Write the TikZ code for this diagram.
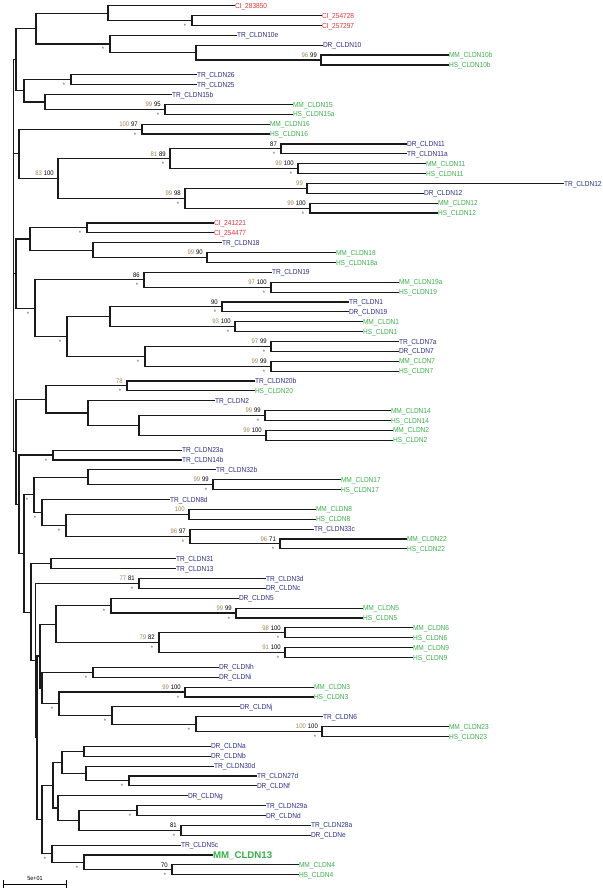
\documentclass[tikz,border=0pt]{standalone}
\usepackage{fontspec}
\setmainfont{Liberation Sans}[FakeStretch=0.9]
\newfontfamily\plainsans{Liberation Sans}
\usetikzlibrary{calc}
\definecolor{cired}{HTML}{E8323A}
\definecolor{navy}{HTML}{2C2F88}
\definecolor{grn}{HTML}{3AB04A}
\definecolor{bsb}{HTML}{A08050}
\definecolor{brc}{HTML}{1A1A1A}
\newcommand\jn[4]{\path let \p1=($(#3)!0.5!(#4)$) in coordinate (#1) at (#2pt,\y1);
  \draw[br] (#3) -| (#1) |- (#4);}
\newcommand\bs[3]{\node[bsn,anchor=base east] (b#1) at ([xshift=-4pt,yshift=2.7pt]#1) {\textcolor{bsb}{#2}\hspace{2pt}#3};}
\newcommand\st[1]{\node[stn,anchor=base] (s#1) at ([xshift=-7pt,yshift=-8pt]#1) {*};}
\begin{document}
\begin{tikzpicture}[x=1pt,y=-1pt,
 br/.style={draw=brc,line width=1.15pt,line cap=rect},
 lab/.style={font=\fontsize{7.3}{8}\selectfont,inner sep=0.8pt,anchor=west,text height=5.2pt,text depth=0pt},
 bsn/.style={font=\fontsize{6.6}{7}\selectfont,inner sep=0pt},
 stn/.style={font=\fontsize{6.5}{7}\selectfont,inner sep=0pt,text=black!65}]
\useasboundingbox (0,0) rectangle (602,893);
\foreach \i/\x/\nm/\cl in {
1/234/CI\_283850/cired, 2/321/CI\_254728/cired, 3/321/CI\_257297/cired,
4/236/TR\_CLDN10e/navy, 5/322/DR\_CLDN10/navy, 6/448/MM\_CLDN10b/grn, 7/448/HS\_CLDN10b/grn,
8/196/TR\_CLDN26/navy, 9/196/TR\_CLDN25/navy, 10/171/TR\_CLDN15b/navy,
11/292/MM\_CLDN15/grn, 12/292/HS\_CLDN15a/grn, 13/269/MM\_CLDN16/grn, 14/269/HS\_CLDN16/grn,
15/406/DR\_CLDN11/navy, 16/406/TR\_CLDN11a/navy, 17/425/MM\_CLDN11/grn, 18/425/HS\_CLDN11/grn,
19/563/TR\_CLDN12/navy, 20/423/DR\_CLDN12/navy, 21/437/MM\_CLDN12/grn, 22/437/HS\_CLDN12/grn,
23/213/CI\_241221/cired, 24/213/CI\_254477/cired, 25/221/TR\_CLDN18/navy,
26/335/MM\_CLDN18/grn, 27/335/HS\_CLDN18a/grn, 28/271/TR\_CLDN19/navy,
29/398/MM\_CLDN19a/grn, 30/398/HS\_CLDN19/grn, 31/348/TR\_CLDN1/navy, 32/348/DR\_CLDN19/navy,
33/362/MM\_CLDN1/grn, 34/362/HS\_CLDN1/grn, 35/398/TR\_CLDN7a/navy, 36/398/DR\_CLDN7/navy,
37/398/MM\_CLDN7/grn, 38/398/HS\_CLDN7/grn, 39/254/TR\_CLDN20b/navy, 40/254/HS\_CLDN20/grn,
41/214/TR\_CLDN2/navy, 42/390/MM\_CLDN14/grn, 43/390/HS\_CLDN14/grn, 44/392/MM\_CLDN2/grn,
45/392/HS\_CLDN2/grn, 46/181/TR\_CLDN23a/navy, 47/181/TR\_CLDN14b/navy, 48/215/TR\_CLDN32b/navy,
49/340/MM\_CLDN17/grn, 50/340/HS\_CLDN17/grn, 51/169/TR\_CLDN8d/navy, 52/315/MM\_CLDN8/grn,
53/315/HS\_CLDN8/grn, 54/313/TR\_CLDN33c/navy, 55/406/MM\_CLDN22/grn, 56/406/HS\_CLDN22/grn,
57/175/TR\_CLDN31/navy, 58/175/TR\_CLDN13/navy, 59/265/TR\_CLDN3d/navy, 60/265/DR\_CLDNc/navy,
61/238/DR\_CLDN5/navy, 62/362/MM\_CLDN5/grn, 63/362/HS\_CLDN5/grn, 64/412/MM\_CLDN6/grn,
65/412/HS\_CLDN6/grn, 66/412/MM\_CLDN9/grn, 67/412/HS\_CLDN9/grn, 68/218/DR\_CLDNh/navy,
69/218/DR\_CLDNi/navy, 70/313/MM\_CLDN3/grn, 71/313/HS\_CLDN3/grn, 72/239/DR\_CLDNj/navy,
73/322/TR\_CLDN6/navy, 74/448/MM\_CLDN23/grn, 75/448/HS\_CLDN23/grn, 76/210/DR\_CLDNa/navy,
77/210/DR\_CLDNb/navy, 78/213/TR\_CLDN30d/navy, 79/256/TR\_CLDN27d/navy, 80/256/DR\_CLDNf/navy,
81/187/DR\_CLDNg/navy, 82/265/TR\_CLDN29a/navy, 83/265/DR\_CLDNd/navy, 84/310/TR\_CLDN28a/navy,
85/310/DR\_CLDNe/navy, 86/180/TR\_CLDN5c/navy, 88/298/MM\_CLDN4/grn, 89/298/HS\_CLDN4/grn}
{
 \coordinate (l\i) at (\x,{5.7+(\i-1)*9.875});
 \node[lab,text=\cl] (t\i) at (l\i) {\nm};
}
\coordinate (l87) at (212,{5.7+86*9.875});
\node[lab,text=grn,font=\plainsans\fontsize{9.7}{11}\bfseries,text height=7pt] (t87) at (l87) {MM\_CLDN13};
% clades
\jn{a23}{192}{l2}{l3} \st{a23}
\jn{a123}{108}{l1}{a23}
\jn{a67}{321}{l6}{l7} \bs{a67}{96}{99}
\jn{a567}{196}{l5}{a67}
\jn{a4567}{110}{l4}{a567} \st{a4567}
\jn{a17}{36}{a123}{a4567}
\jn{a89}{71}{l8}{l9} \st{a89}
\jn{a1112}{165}{l11}{l12} \bs{a1112}{99}{95} \st{a1112}
\jn{a1012}{45}{l10}{a1112}
\jn{nC}{24}{a89}{a1012}
\jn{nB}{16}{a17}{nC}
\jn{a1314}{142}{l13}{l14} \bs{a1314}{100}{97} \st{a1314}
\jn{a1516}{281}{l15}{l16} \bs{a1516}{}{87} \st{a1516}
\jn{a1718}{298}{l17}{l18} \bs{a1718}{99}{100} \st{a1718}
\jn{a1518}{170}{a1516}{a1718} \bs{a1518}{81}{89} \st{a1518}
\jn{a1920}{307}{l19}{l20} \bs{a1920}{99}{}
\jn{a2122}{310}{l21}{l22} \bs{a2122}{99}{100} \st{a2122}
\jn{a1922}{185}{a1920}{a2122} \bs{a1922}{99}{98} \st{a1922}
\jn{nF}{58}{a1518}{a1922} \bs{nF}{83}{100}
\jn{nE}{19}{a1314}{nF}
\jn{a2324}{87}{l23}{l24} \st{a2324}
\jn{a2627}{207}{l26}{l27} \bs{a2627}{99}{90}
\jn{a2527}{93}{l25}{a2627}
\jn{nG}{30}{a2324}{a2527}
\jn{a2930}{271}{l29}{l30} \bs{a2930}{97}{100} \st{a2930}
\jn{a2830}{144}{l28}{a2930} \bs{a2830}{}{86} \st{a2830}
\jn{a3132}{222}{l31}{l32} \bs{a3132}{}{90} \st{a3132}
\jn{a3334}{235}{l33}{l34} \bs{a3334}{93}{100} \st{a3334}
\jn{a3134}{110}{a3132}{a3334}
\jn{a3536}{271}{l35}{l36} \bs{a3536}{97}{99} \st{a3536}
\jn{a3738}{271}{l37}{l38} \bs{a3738}{99}{99} \st{a3738}
\jn{a3538}{145}{a3536}{a3738} \st{a3538}
\jn{nI}{67}{a3134}{a3538} \st{nI}
\jn{nJ}{35}{a2830}{nI} \st{nJ}
\jn{nH}{16}{nG}{nJ}
\jn{a3940}{127}{l39}{l40} \bs{a3940}{78}{} \st{a3940}
\jn{a4243}{265}{l42}{l43} \bs{a4243}{99}{99} \st{a4243}
\jn{a4445}{266}{l44}{l45} \bs{a4445}{99}{100}
\jn{a4245}{139}{a4243}{a4445}
\jn{a4145}{88}{l41}{a4245}
\jn{nK}{46}{a3940}{a4145}
\jn{a4647}{53}{l46}{l47} \st{a4647}
\jn{a4950}{213}{l49}{l50} \bs{a4950}{99}{99} \st{a4950}
\jn{a4850}{88}{l48}{a4950}
\jn{a5253}{189}{l52}{l53} \bs{a5253}{100}{}
\jn{a5556}{280}{l55}{l56} \bs{a5556}{96}{71} \st{a5556}
\jn{a5456}{190}{l54}{a5556} \bs{a5456}{96}{97} \st{a5456}
\jn{a5256}{66}{a5253}{a5456} \st{a5256}
\jn{nN}{42}{l51}{a5256} \st{nN}
\jn{nO}{34}{a4850}{nN} \st{nO}
\jn{a5758}{51}{l57}{l58}
\jn{a5960}{139}{l59}{l60} \bs{a5960}{77}{81} \st{a5960}
\jn{a6263}{236}{l62}{l63} \bs{a6263}{99}{99} \st{a6263}
\jn{a6163}{111}{l61}{a6263} \st{a6163}
\jn{a6465}{285}{l64}{l65} \bs{a6465}{98}{100} \st{a6465}
\jn{a6667}{285}{l66}{l67} \bs{a6667}{91}{100} \st{a6667}
\jn{a6467}{159}{a6465}{a6667} \bs{a6467}{79}{82} \st{a6467}
\jn{nQ}{56}{a6163}{a6467}
\jn{a6869}{93}{l68}{l69} \st{a6869}
\jn{a7071}{185}{l70}{l71} \bs{a7071}{99}{100} \st{a7071}
\jn{a7475}{322}{l74}{l75} \bs{a7475}{100}{100} \st{a7475}
\jn{a7375}{196}{l73}{a7475} \st{a7375}
\jn{a7275}{112}{l72}{a7375} \st{a7275}
\jn{nR}{59}{a7071}{a7275} \st{nR}
\jn{nS}{42}{a6869}{nR}
\jn{a7677}{84}{l76}{l77}
\jn{a7980}{129}{l79}{l80} \st{a7980}
\jn{a7880}{86}{l78}{a7980}
\jn{nT}{62}{a7677}{a7880}
\jn{a8283}{137}{l82}{l83} \st{a8283}
\jn{a8485}{181}{l84}{l85} \bs{a8485}{}{81} \st{a8485}
\jn{a8285}{79}{a8283}{a8485}
\jn{nU}{58}{l81}{a8285}
\jn{nW}{53}{nT}{nU}
\jn{a8889}{172}{l88}{l89} \bs{a8889}{}{70} \st{a8889}
\jn{a8789}{84}{l87}{a8889} \st{a8789}
\jn{a8689}{52}{l86}{a8789} \st{a8689}
\jn{nX}{42}{nW}{a8689}
% backbone
\jn{c2}{40}{nQ}{nS}
\jn{c1b}{37}{c2}{nX}
\jn{c1}{35.5}{a5960}{c1b}
\jn{nQf}{31}{a5758}{c1}
\jn{nP}{24}{nO}{nQf}
\jn{nM}{19}{a4647}{nP}
\jn{nL}{16}{nK}{nM}
% root (multifurcating)
\path let \p1=(nB), \p2=(nL) in coordinate (rt) at (13.5pt,\y1) coordinate (rb) at (13.5pt,\y2);
\draw[br] (nB) -- (rt) -- (rb) -- (nL);
\draw[br] (nE) -- (nE -| rt);
\draw[br] (nH) -- (nH -| rt);
% scale bar
\coordinate (sb1) at (3,884);
\coordinate (sb2) at (66,884);
\draw[line width=0.8pt] (sb1) -- (sb2);
\draw[line width=0.8pt] ([yshift=4pt]sb1) -- ([yshift=-4pt]sb1);
\draw[line width=0.8pt] ([yshift=4pt]sb2) -- ([yshift=-4pt]sb2);
\node[bsn,font=\fontsize{6}{7}\selectfont] (sbl) at (35,878.5) {5e+01};
\end{tikzpicture}
\end{document}
